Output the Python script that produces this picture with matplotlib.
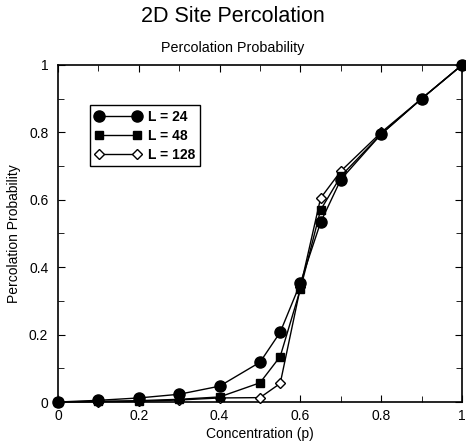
import matplotlib
matplotlib.use("Agg")
import matplotlib.pyplot as plt
from matplotlib.ticker import MultipleLocator, FixedLocator

plt.rcParams['font.family'] = ['Liberation Sans', 'DejaVu Sans']

p = [0, 0.1, 0.2, 0.3, 0.4, 0.5, 0.55, 0.6, 0.65, 0.7, 0.8, 0.9, 1.0]
L24 = [0, 0.005, 0.012, 0.023, 0.047, 0.118, 0.207, 0.353, 0.533, 0.66, 0.795, 0.9, 1.0]
L48 = [0, 0.002, 0.004, 0.008, 0.015, 0.057, 0.135, 0.335, 0.57, 0.67, 0.795, 0.9, 1.0]
L128 = [0, 0.001, 0.002, 0.006, 0.012, 0.013, 0.055, 0.34, 0.605, 0.685, 0.8, 0.9, 1.0]
ticks = [0, 0.2, 0.4, 0.6, 0.8, 1.0]
tick_labels = ["0", "0.2", "0.4", "0.6", "0.8", "1"]

fig = plt.figure(figsize=(4.66, 4.42), dpi=100)
ax = fig.add_axes([58/466, 40/442, 404/466, 337/442])

ax.plot(p, L128, '-D', color='black', mfc='white', lw=1, ms=5, mew=1, label='L = 128', clip_on=False, zorder=4)
ax.plot(p, L48, '-s', color='black', lw=1, ms=6, label='L = 48', clip_on=False, zorder=5)
ax.plot(p, L24, '-o', color='black', lw=1, ms=8, label='L = 24', clip_on=False, zorder=6)

ax.set_xlim(0, 1)
ax.set_ylim(0, 1)
ax.xaxis.set_major_locator(FixedLocator(ticks))
ax.yaxis.set_major_locator(FixedLocator(ticks))
ax.set_xticklabels(tick_labels)
ax.set_yticklabels(tick_labels)
ax.xaxis.set_minor_locator(MultipleLocator(0.1))
ax.yaxis.set_minor_locator(MultipleLocator(0.1))
ax.tick_params(which='both', direction='in', top=True, right=True, labelsize=10)
ax.tick_params(axis='x', pad=5)
ax.tick_params(axis='y', pad=7)
ax.tick_params(which='major', length=5)
ax.tick_params(which='minor', length=4)
for s in ax.spines.values():
    s.set_linewidth(1.2)

ax.set_xlabel('Concentration (p)', fontsize=10, labelpad=3)
ax.set_ylabel('Percolation Probability', fontsize=10, labelpad=6)
fig.text(0.5, 1 - 48/442, 'Percolation Probability', ha='center', va='center', fontsize=10.3)
fig.text(0.5, 1 - 16/442, '2D Site Percolation', ha='center', va='center', fontsize=15.5)

handles, labels = ax.get_legend_handles_labels()
leg = ax.legend(handles[::-1], labels[::-1], loc='upper left',
                bbox_to_anchor=((90 - 58) / 404, (402 - 105) / 337), borderaxespad=0,
                frameon=True, fancybox=False, numpoints=2,
                edgecolor='black', framealpha=1, prop={'weight': 'bold', 'size': 10},
                handlelength=3.3, handletextpad=0.55, borderpad=0.35, labelspacing=0.35)
leg.get_frame().set_linewidth(1.0)

fig.savefig('out.png', dpi=100)
